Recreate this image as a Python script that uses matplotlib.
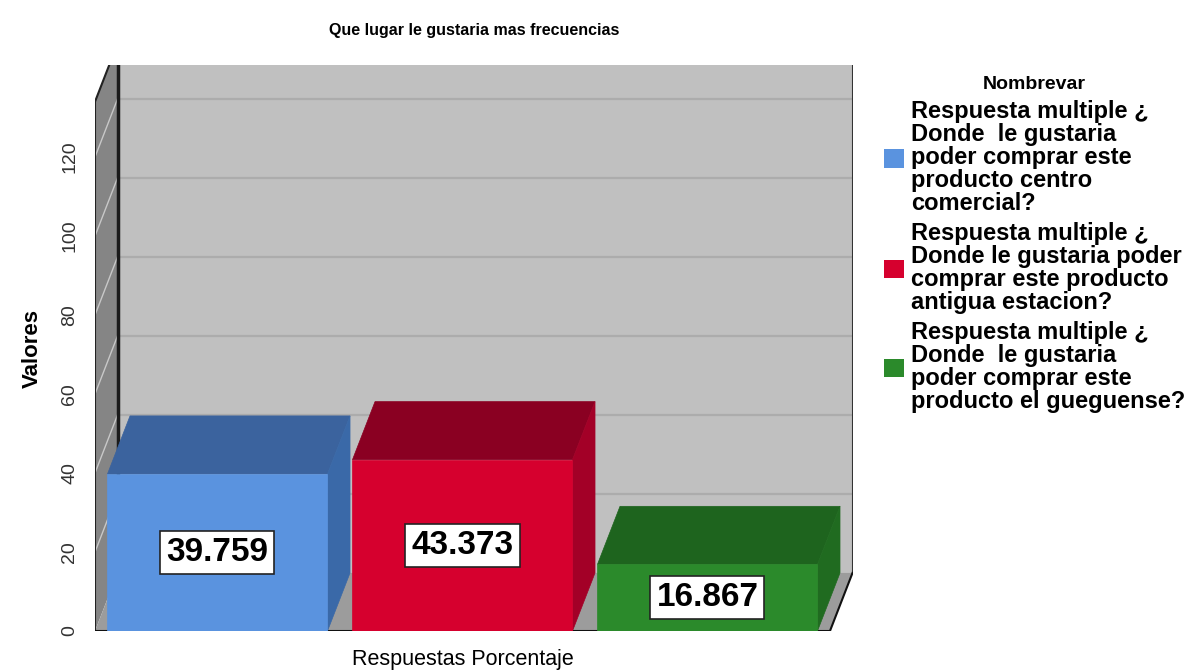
import matplotlib
matplotlib.use("Agg")
import matplotlib.pyplot as plt
from matplotlib.patches import Polygon, Patch

plt.rcParams['font.family'] = ['Liberation Sans', 'DejaVu Sans']

# ------------------------------
# data
# ------------------------------
title = "Que lugar le gustaria mas frecuencias"
category = "Respuestas Porcentaje"
legend_title = "Nombrevar"
series_labels = [
    "Respuesta multiple ¿\nDonde  le gustaria\npoder comprar este\nproducto centro\ncomercial?",
    "Respuesta multiple ¿\nDonde le gustaria poder\ncomprar este producto\nantigua estacion?",
    "Respuesta multiple ¿\nDonde  le gustaria\npoder comprar este\nproducto el gueguense?",
]
values = [39.759, 43.373, 16.867]
y_ticks = [0, 20, 40, 60, 80, 100, 120]

front_colors = ["#5A93DF", "#D6002E", "#2B8A2B"]
top_colors = ["#3B639E", "#8A0022", "#1E641E"]
side_colors = ["#3A69A8", "#A30027", "#206B20"]

# ------------------------------
# 3D look (oblique projection)
# ------------------------------
W, H = 1186, 672
ddx = 0.092      # depth offset along x (data units)
ddy = 14.7       # depth offset along y (data units)
box_top = 134.0
bar_w = 0.898
x_lo, x_hi = -0.5, 2.5
y_max = 143.3

fig = plt.figure(figsize=(W / 100, H / 100), dpi=100)
ax = fig.add_axes([95 / W, 41 / H, 757.5 / W, 566 / H])
ax.set_xlim(x_lo, x_hi + ddx)
ax.set_ylim(0, y_max)
for s in ax.spines.values():
    s.set_visible(False)

# back wall
ax.add_patch(Polygon([(x_lo + ddx, ddy), (x_hi + ddx, ddy), (x_hi + ddx, box_top + ddy),
                      (x_lo + ddx, box_top + ddy)], closed=True, fc="#C0C0C0", ec="none", zorder=1))
# left wall
ax.add_patch(Polygon([(x_lo, 0), (x_lo + ddx, ddy), (x_lo + ddx, box_top + ddy), (x_lo, box_top)],
                     closed=True, fc="#858585", ec="none", zorder=1))
# floor
ax.add_patch(Polygon([(x_lo, 0), (x_hi, 0), (x_hi + ddx, ddy), (x_lo + ddx, ddy)],
                     closed=True, fc="#9C9C9C", ec="none", zorder=1))

# gridlines
for v in y_ticks[1:]:
    ax.plot([x_lo + ddx, x_hi + ddx], [v + ddy, v + ddy], color="#ACACAC", lw=1.6, zorder=2)
    ax.plot([x_lo, x_lo + ddx], [v, v + ddy], color="#C8C8C8", lw=1.0, zorder=2)

# box edges
ax.plot([x_lo, x_lo, x_lo + ddx], [0, box_top, box_top + ddy], color="#222222", lw=1.5, zorder=2)
ax.plot([x_lo + ddx, x_lo + ddx], [ddy, y_max], color="#1A1A1A", lw=2.5, zorder=2)
ax.plot([x_hi + ddx, x_hi + ddx], [ddy, y_max], color="#333333", lw=1.5, zorder=2)
ax.plot([x_lo, x_hi, x_hi + ddx], [0, 0, ddy], color="#111111", lw=1.5, zorder=2)

# bars
for i, v in enumerate(values):
    l, r = i - bar_w / 2, i + bar_w / 2
    ax.add_patch(Polygon([(l, v), (r, v), (r + ddx, v + ddy), (l + ddx, v + ddy)],
                         closed=True, fc=top_colors[i], ec=top_colors[i], lw=0.5, zorder=3))
    ax.add_patch(Polygon([(r, 0), (r + ddx, ddy), (r + ddx, v + ddy), (r, v)],
                         closed=True, fc=side_colors[i], ec=side_colors[i], lw=0.5, zorder=3))
    ax.add_patch(Polygon([(l, 0), (r, 0), (r, v), (l, v)],
                         closed=True, fc=front_colors[i], ec=front_colors[i], lw=0.5, zorder=4))
    ax.text(i, v / 2, f"{v:.3f}", ha="center", va="center", fontsize=24, fontweight="bold",
            zorder=5, bbox=dict(boxstyle="square,pad=0.18", fc="white", ec="#222222", lw=1.2))

# axes text
ax.set_xticks([])
ax.set_yticks(y_ticks)
ax.set_yticklabels([str(t) for t in y_ticks], rotation=90, va="center", fontsize=14, color="#333333")
ax.tick_params(axis="y", length=0, pad=12)
ax.set_ylabel("Valores", fontsize=16, fontweight="bold", labelpad=13)
fig.text(462.5 / W, 1 - 660 / H, category, ha="center", va="center", fontsize=15.5)
fig.text(474 / W, 1 - 31 / H, title, ha="center", va="center", fontsize=11.5, fontweight="bold")

# legend
handles = [Patch(fc=c, ec="none") for c in front_colors]
leg = fig.legend(handles, series_labels, loc="upper left", bbox_to_anchor=(884 / W, 1 - 76 / H),
                 frameon=False, title=legend_title, prop={"weight": "bold", "size": 17},
                 title_fontproperties={"weight": "bold", "size": 14},
                 handlelength=0.85, handleheight=0.85, handletextpad=0.3, labelspacing=0.3,
                 borderpad=0, borderaxespad=0)
for t in leg.get_texts():
    t.set_linespacing(1.0)

fig.savefig("out.png", dpi=100)
